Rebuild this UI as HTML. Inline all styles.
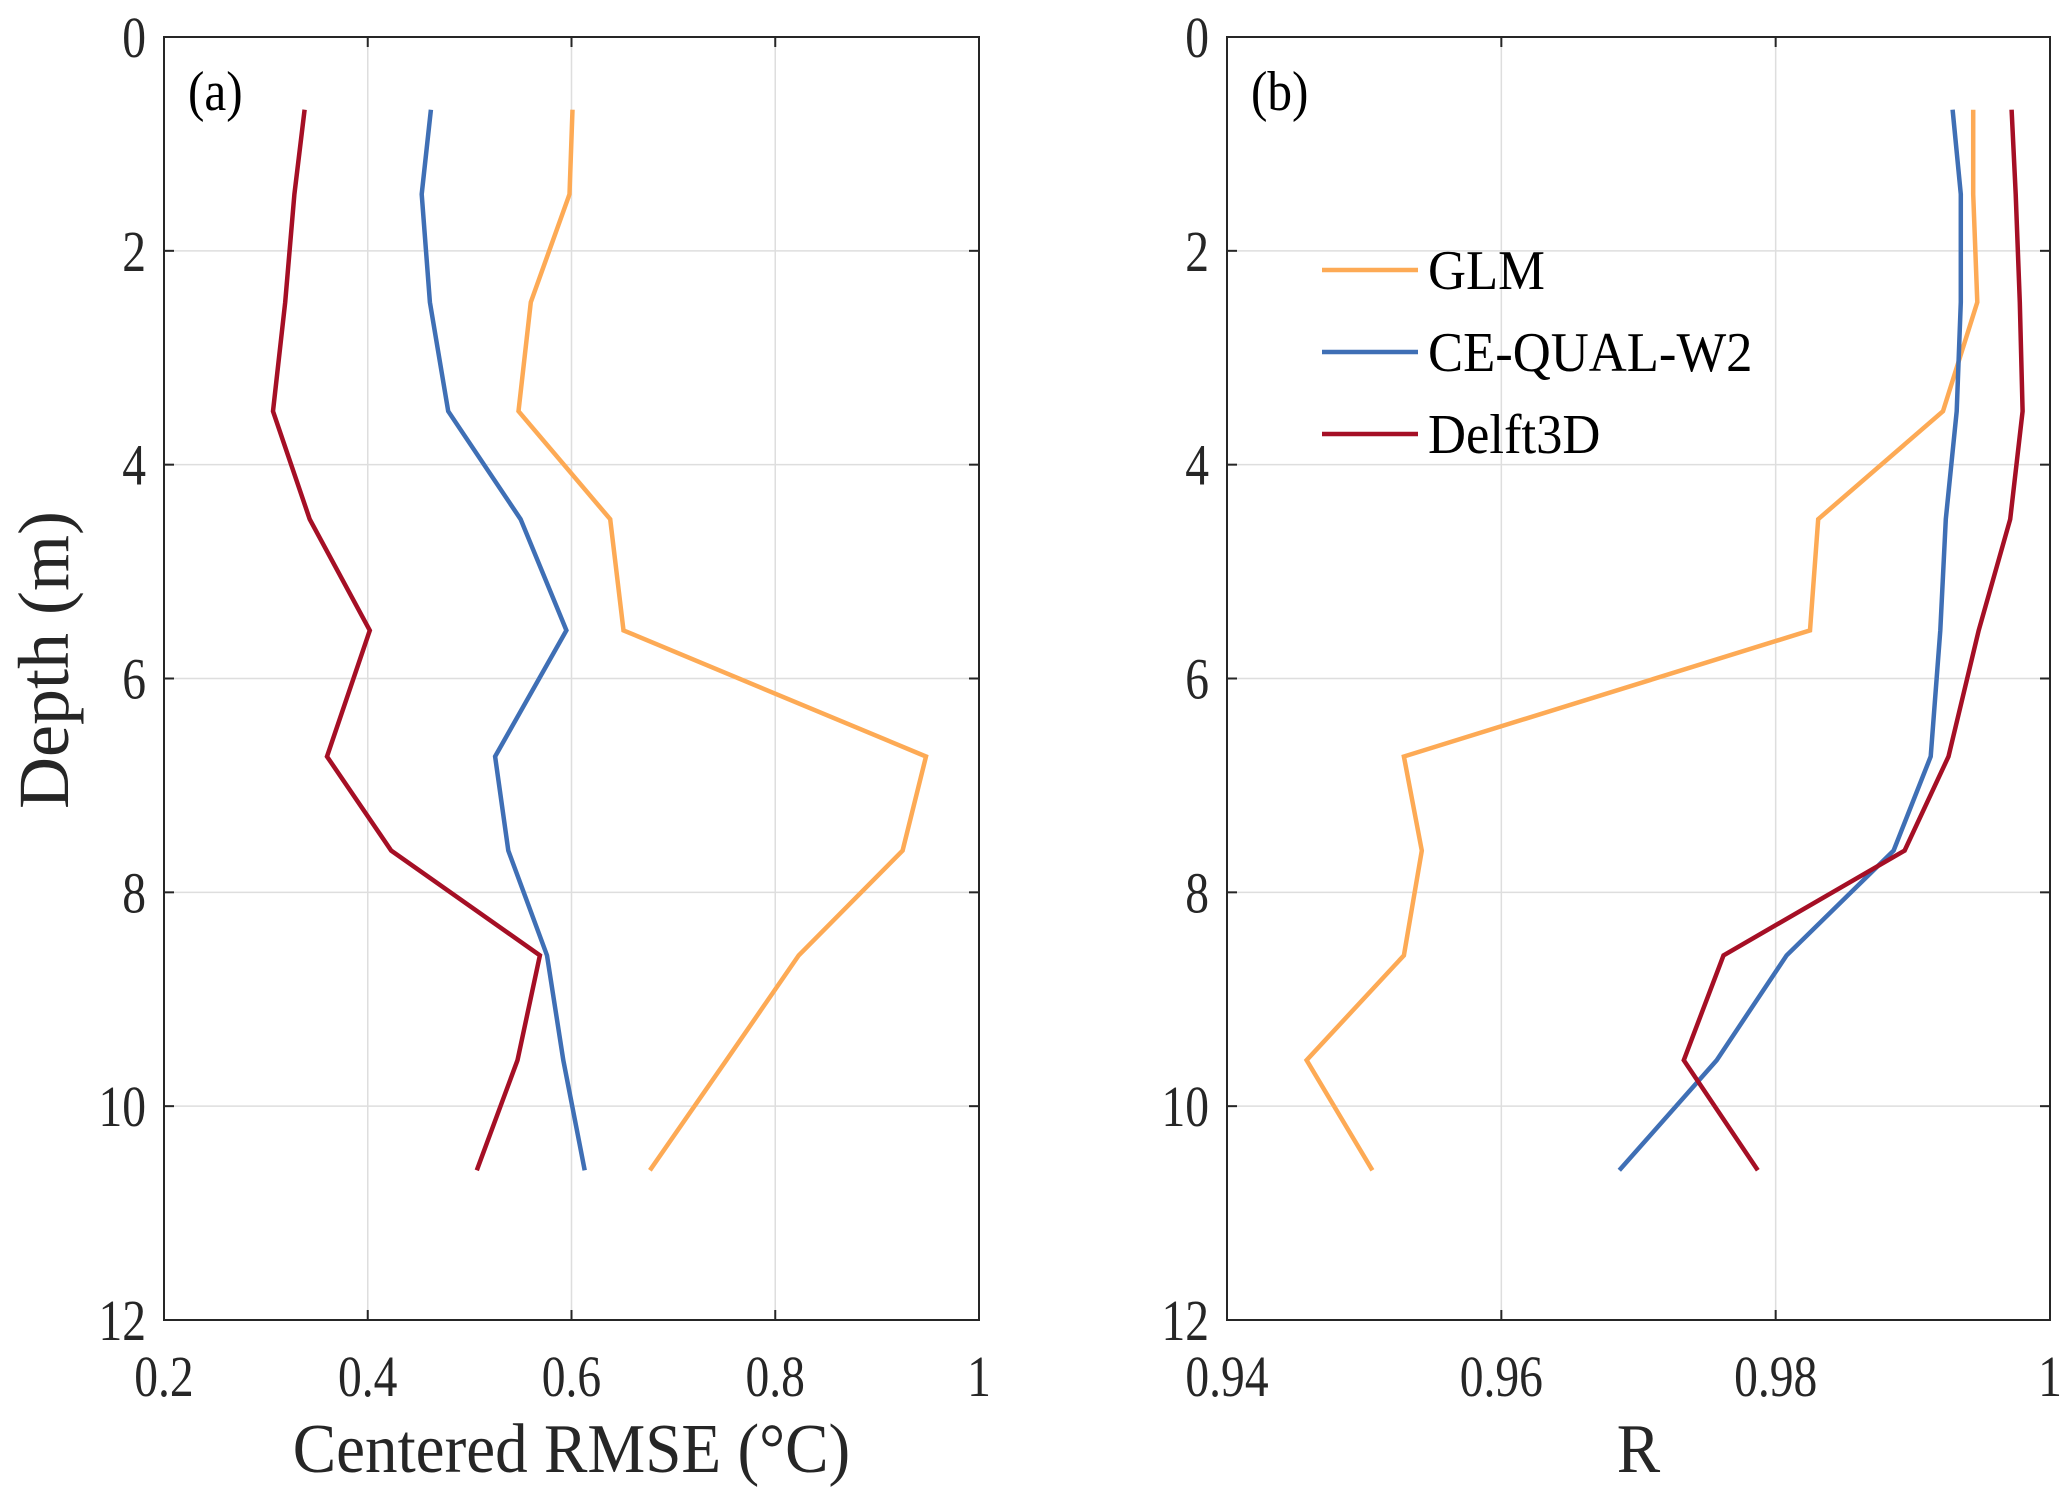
<!DOCTYPE html>
<html><head><meta charset="utf-8"><style>
body{margin:0;background:#fff;}
svg{display:block;font-family:"Liberation Serif",serif;}
</style></head><body>
<svg id="chart" width="2067" height="1493" viewBox="0 0 2067 1493" xmlns="http://www.w3.org/2000/svg"></svg>
<script>
const depths = [0.68,1.47,2.48,3.5,4.51,5.55,6.73,7.61,8.59,9.57,10.6];
const rmseGLM = [0.601,0.598,0.560,0.548,0.638,0.651,0.948,0.925,0.823,0.752,0.677];
const rmseW2 = [0.462,0.453,0.461,0.479,0.55,0.595,0.525,0.538,0.576,0.592,0.613];
const rmseDelft = [0.338,0.328,0.319,0.307,0.343,0.402,0.360,0.423,0.569,0.547,0.507];
const rGLM = [0.9944,0.9944,0.9947,0.9922,0.9831,0.9825,0.9529,0.9542,0.9529,0.9458,0.9506];
const rW2 = [0.9929,0.9935,0.9935,0.9932,0.9924,0.9920,0.9913,0.9886,0.9808,0.9757,0.9686];
const rDelft = [0.9972,0.9975,0.9978,0.9980,0.9971,0.9948,0.9926,0.9894,0.9762,0.9733,0.9787];
const yTicks = [0,2,4,6,8,10,12];
const xTicksA = [0.2,0.4,0.6,0.8,1];
const xTicksALabels = ["0.2","0.4","0.6","0.8","1"];
const xTicksB = [0.94,0.96,0.98,1];
const xTicksBLabels = ["0.94","0.96","0.98","1"];
const seriesNames = ["GLM","CE-QUAL-W2","Delft3D"];
const colors = ["#fdaa55","#3f6fb5","#a50f25"];

const NS="http://www.w3.org/2000/svg";
const svg=document.getElementById('chart');
function mk(tag,attrs,parent){const e=document.createElementNS(NS,tag);for(const k in attrs)e.setAttribute(k,attrs[k]);(parent||svg).appendChild(e);return e;}
function txt(parent,x,y,size,sx,anchor,str,fill){
  const t=mk('text',{x:0,y:0,'font-size':size,'text-anchor':anchor,fill:fill||'#262626',transform:'translate('+x+','+y+') scale('+sx+',1)'},parent);
  t.textContent=str;
  return t;
}
const yTop=37,yBot=1320;
function yScale(d){return yTop+(d/12)*(yBot-yTop);}

function panel(id,left,right,xmin,xmax,ticks,tickLabels,series,xtitle,label){
  const g=mk('g',{});
  
  
  const xs=v=>left+(v-xmin)/(xmax-xmin)*(right-left);
  ticks.forEach((t,i)=>{
    const x=xs(t);
    if(i>0&&i<ticks.length-1){const gl=mk('line',{x1:x,x2:x,y1:yTop,y2:yBot,stroke:'#dedede','stroke-width':1.5},g);
    
    }
    mk('line',{x1:x,x2:x,y1:yBot,y2:yBot-10,stroke:'#262626','stroke-width':2},g);
    mk('line',{x1:x,x2:x,y1:yTop,y2:yTop+10,stroke:'#262626','stroke-width':2},g);
    const tl=txt(g,x,yBot+76,58,0.82,'middle',tickLabels[i]);
    
    
  });
  yTicks.forEach((t,i)=>{
    const y=yScale(t);
    if(i>0&&i<yTicks.length-1){const gl=mk('line',{x1:left,x2:right,y1:y,y2:y,stroke:'#dedede','stroke-width':1.5},g);
    
    }
    mk('line',{x1:left,x2:left+10,y1:y,y2:y,stroke:'#262626','stroke-width':2},g);
    mk('line',{x1:right,x2:right-10,y1:y,y2:y,stroke:'#262626','stroke-width':2},g);
    const tl=txt(g,left-18,y+20,58,0.82,'end',String(t));
    
    
  });
  series.forEach((vals,si)=>{
    const pts=vals.map((v,i)=>xs(v).toFixed(1)+','+yScale(depths[i]).toFixed(1)).join(' ');
    const pl=mk('polyline',{points:pts,fill:'none',stroke:colors[si],'stroke-width':4.5,'stroke-linejoin':'miter'},g);
    
    
  });
  const box=mk('rect',{x:left,y:yTop,width:right-left,height:yBot-yTop,fill:'none',stroke:'#262626','stroke-width':2},g);
  
  
  const xt=txt(g,(left+right)/2,1472,70,0.93,'middle',xtitle);
  
  
  const pl=txt(g,left+24,110,56,0.88,'start',label,'#000');
  
  
}
panel('panel-a',164,979,0.2,1,xTicksA,xTicksALabels,[rmseGLM,rmseW2,rmseDelft],'Centered RMSE (°C)','(a)');
panel('panel-b',1227,2050,0.94,1,xTicksB,xTicksBLabels,[rGLM,rW2,rDelft],'R','(b)');

const yt=mk('text',{x:0,y:0,'font-size':72,'text-anchor':'middle',fill:'#262626',transform:'translate(68,660) rotate(-90)'});
yt.textContent='Depth (m)';



const lg=mk('g',{});


seriesNames.forEach((n,i)=>{
  const y=270+i*82;
  const ln=mk('line',{x1:1322,x2:1418,y1:y,y2:y,stroke:colors[i],'stroke-width':4.5},lg);
  
  
  const t=txt(lg,1428,y+19,56,0.94,'start',n,'#000');
  
  
});
</script>
</body></html>
